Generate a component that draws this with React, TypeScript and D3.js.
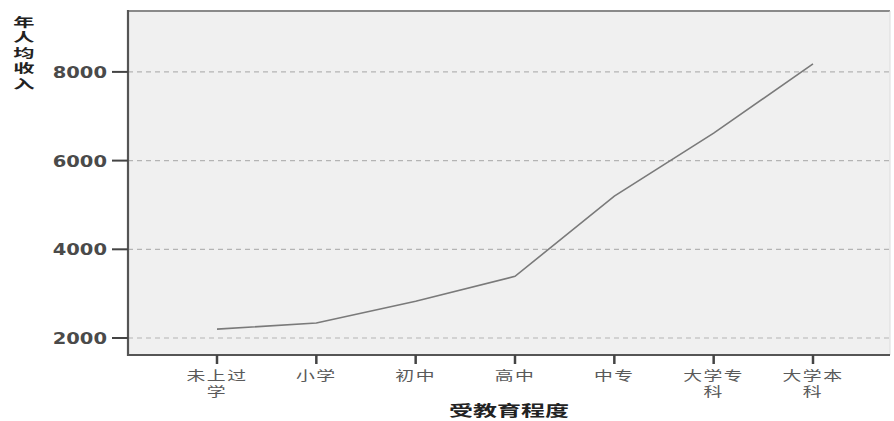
import React from "react";
import * as d3 from "d3";

const categories = ["未上过学", "小学", "初中", "高中", "中专", "大学专科", "大学本科"];
const categoryLines = [["未上过", "学"], ["小学"], ["初中"], ["高中"], ["中专"], ["大学专", "科"], ["大学本", "科"]];
const incomeValues = [2200, 2340, 2830, 3390, 5200, 6620, 8180];
const yTicks = [2000, 4000, 6000, 8000];
const yTitleChars = ["年", "人", "均", "收", "入"];
const xTitle = "受教育程度";

const W = 894;
const H = 421;
const plotLeft = 128;
const plotRight = 890;
const plotTop = 11;
const plotBottom = 355;

export default function App() {
  const x = d3.scalePoint<string>().domain(categories).range([217, 813]);
  const y = d3.scaleLinear().domain([1617, 9373]).range([plotBottom, plotTop]);
  const line = d3
    .line<number>()
    .x((_, i) => x(categories[i]) as number)
    .y((d) => y(d));

  const cjk = "'Noto Sans CJK SC', 'Noto Sans', sans-serif";

  return (
    <div style={{ position: "fixed", left: 0, top: 0, width: W, height: H, background: "#fff" }}>
      <svg width={W} height={H} style={{ display: "block" }}>
        <rect x={0} y={0} width={W} height={H} fill="#fff" />
        <rect x={plotLeft} y={plotTop} width={plotRight - plotLeft} height={plotBottom - plotTop} fill="#f0f0f0" />
        {yTicks.map((t) => (
          <line
            key={"g" + t}
            x1={plotLeft}
            x2={plotRight}
            y1={y(t)}
            y2={y(t)}
            stroke="#b4b4b4"
            strokeWidth={1.2}
            strokeDasharray="5,4"
          />
        ))}
        <path d={line(incomeValues) || ""} fill="none" stroke="#7a7a7a" strokeWidth={1.6} />
        {/* frame */}
        <line x1={plotLeft} x2={plotRight} y1={plotTop} y2={plotTop} stroke="#8a8a8a" strokeWidth={2} />
        <line x1={plotRight} x2={plotRight} y1={plotTop} y2={plotBottom} stroke="#dcdcdc" strokeWidth={1} />
        <line x1={plotLeft} x2={plotLeft} y1={plotTop - 1} y2={plotBottom + 1} stroke="#555" strokeWidth={2.2} />
        <line x1={plotLeft} x2={plotRight} y1={plotBottom} y2={plotBottom} stroke="#555" strokeWidth={2.2} />
        {/* y ticks */}
        {yTicks.map((t) => (
          <g key={"t" + t}>
            <line x1={112} x2={plotLeft} y1={y(t)} y2={y(t)} stroke="#444" strokeWidth={2} />
            <g transform={`translate(107,${y(t) + 6}) scale(1.22,1)`}>
              <text
                textAnchor="end"
                fontFamily="'DejaVu Sans', sans-serif"
                fontWeight="bold"
                fontSize={16}
                fill="#4a4a4a"
              >
                {t}
              </text>
            </g>
          </g>
        ))}
        {/* x ticks */}
        {categories.map((c, i) => (
          <g key={c}>
            <line x1={x(c)} x2={x(c)} y1={plotBottom} y2={364} stroke="#444" strokeWidth={2.5} />
            <g transform={`translate(${x(c)},380) scale(1.45,1)`}>
              <text textAnchor="middle" fontFamily={cjk} fontSize={13} fill="#5a5a5a" letterSpacing={1}>
                {categoryLines[i].map((s, j) => (
                  <tspan key={j} x={0} dy={j === 0 ? 0 : 16.5}>
                    {s}
                  </tspan>
                ))}
              </text>
            </g>
          </g>
        ))}
        {/* y title */}
        <g transform={`translate(24,27) scale(1.7,1)`}>
          <text textAnchor="middle" fontFamily={cjk} fontWeight="bold" fontSize={12.5} fill="#222">
            {yTitleChars.map((ch, i) => (
              <tspan key={i} x={0} dy={i === 0 ? 0 : 15.5}>
                {ch}
              </tspan>
            ))}
          </text>
        </g>
        {/* x title */}
        <g transform={`translate(509,416) scale(1.6,1)`}>
          <text textAnchor="middle" fontFamily={cjk} fontWeight="bold" fontSize={15} fill="#222">
            {xTitle}
          </text>
        </g>
      </svg>
    </div>
  );
}
